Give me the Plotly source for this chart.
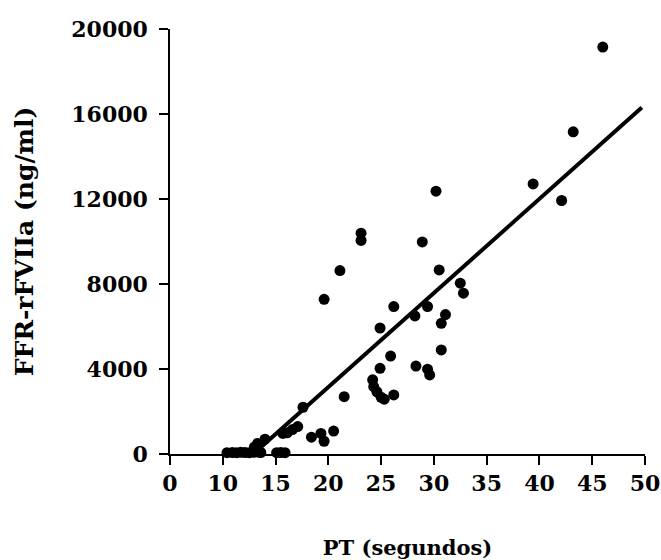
import plotly.graph_objects as go

# Prothrombin time (s) and FFR-rFVIIa concentration (ng/ml) per sample
pt_seconds = [
    10.4, 10.9, 11.3, 11.7, 12.1, 12.5, 12.9, 13.3, 13.6,
    15.1, 15.5, 15.9,
    13.0, 13.3, 14.0, 15.7, 16.1, 16.6, 17.1, 17.6,
    18.4, 19.3, 19.6, 20.5, 21.5, 19.6, 21.1, 23.1, 23.1,
    24.2, 24.3, 24.6, 25.0, 25.3, 26.2,
    24.9, 24.9, 25.9, 26.2,
    28.2, 28.3, 28.9, 29.4, 29.4, 29.6,
    30.2, 30.5, 30.7, 30.7, 31.1,
    32.5, 32.8, 39.4, 42.1, 43.2, 46.0,
]
ffr_rfviia = [
    60, 70, 60, 80, 70, 60, 80, 90, 70,
    60, 70, 60,
    330, 500, 700, 970, 1000, 1150, 1290, 2200,
    790, 970, 600, 1080, 2700, 7280, 8630, 10390, 10050,
    3490, 3170, 2930, 2670, 2580, 2780,
    4030, 5930, 4610, 6940,
    6500, 4140, 9980, 6940, 3990, 3720,
    12370, 8660, 6150, 4900, 6560,
    8040, 7570, 12710, 11930, 15160, 19150,
]

# Linear fit drawn over the range where it is positive
fit_slope = 443.0
fit_intercept = -5715.0
fit_x_range = [13.5, 49.7]

# Axis ticks (the x axis starts at 5 s, labelled as 0)
x_tickvals = [5, 10, 15, 20, 25, 30, 35, 40, 45, 50]
x_ticktext = ["0", "10", "15", "20", "25", "30", "35", "40", "45", "50"]
y_tickvals = [0, 4000, 8000, 12000, 16000, 20000]
y_ticktext = ["0", "4000", "8000", "12000", "16000", "20000"]

fit_y = [fit_slope * x + fit_intercept for x in fit_x_range]

font_family = "DejaVu Serif"

fig = go.Figure()
fig.add_trace(go.Scatter(
    x=fit_x_range, y=fit_y, mode="lines",
    line=dict(color="black", width=4),
    hoverinfo="skip", cliponaxis=False,
))
fig.add_trace(go.Scatter(
    x=pt_seconds, y=ffr_rfviia, mode="markers",
    marker=dict(color="black", size=11, line=dict(width=0)),
    cliponaxis=False,
))

axis_common = dict(
    showgrid=False, zeroline=False, automargin=False,
    showline=True, linecolor="black", linewidth=1.5,
    ticks="outside", ticklen=9, tickwidth=1.5, tickcolor="black",
    tickfont=dict(family=font_family, size=22, color="black", weight="bold"),
)

fig.update_layout(
    width=661, height=560,
    margin=dict(l=170, r=16, t=29, b=106),
    paper_bgcolor="white", plot_bgcolor="white",
    showlegend=False,
    xaxis=dict(
        range=[5, 50], tickvals=x_tickvals, ticktext=x_ticktext,
        ticklabelstandoff=0,
        title=dict(text="PT (segundos)", standoff=45,
                   font=dict(family=font_family, size=21, color="black", weight="bold")),
        **axis_common,
    ),
    yaxis=dict(
        range=[0, 20000], tickvals=y_tickvals, ticktext=y_ticktext,
        ticklabelstandoff=7,
        title=dict(text="FFR-rFVIIa (ng/ml)", standoff=31,
                   font=dict(family=font_family, size=25, color="black", weight="bold")),
        **axis_common,
    ),
)

fig.write_html("out.html")
